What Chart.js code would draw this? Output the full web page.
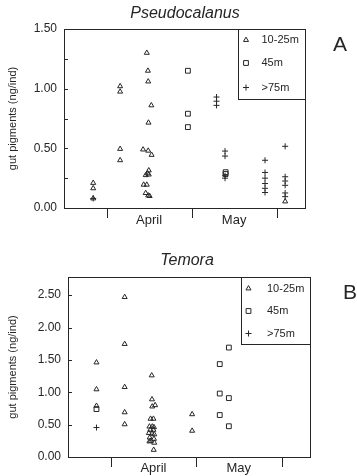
<!DOCTYPE html>
<html>
<head>
<meta charset="utf-8">
<script src="https://cdn.jsdelivr.net/npm/chart.js@4.4.1/dist/chart.umd.min.js"></script>
<style>
    html, body { margin: 0; padding: 0; background: #fff; }
    .panel { position: absolute; left: 0; width: 357px; }
    #panelA { top: 0; height: 236px; }
    #panelB { top: 236px; height: 240px; }
</style>
</head>
<body>
<div class="panel" id="panelA"><canvas id="chartA" width="357" height="236"></canvas></div>
<div class="panel" id="panelB"><canvas id="chartB" width="357" height="240"></canvas></div>
<script>
// depth classes (legend)
const depthLabels = ['10-25m', '45m', '>75m'];

// x axis: days since 1 April
const monthLabels = ['April', 'May'];
const monthCenters = [15, 45];
const monthBounds = [0, 30, 60];

// y axis ticks
const yTicksA = [0, 0.5, 1.0, 1.5];
const yTicksB = [0, 0.5, 1.0, 1.5, 2.0, 2.5];

// Pseudocalanus - [day, gut pigments]
const pseudoShallow = [
    [-4.7, 0.21], [-4.7, 0.165], [-4.7, 0.08],
    [4.8, 1.02], [4.8, 0.975], [4.8, 0.495], [4.8, 0.40],
    [14.2, 1.30], [14.6, 1.15], [14.7, 1.06], [15.8, 0.86], [14.8, 0.715],
    [12.9, 0.49], [14.7, 0.48], [15.9, 0.445],
    [14.9, 0.315], [14.5, 0.29], [13.8, 0.275], [14.9, 0.28],
    [13.1, 0.195], [14.2, 0.195], [13.8, 0.125], [14.7, 0.105], [15.2, 0.10],
    [63.0, 0.055]
];
const pseudoMid = [
    [28.7, 1.15], [28.7, 0.79], [28.7, 0.678], [42.0, 0.30], [42.0, 0.285]
];
const pseudoDeep = [
    [-4.7, 0.08],
    [38.8, 0.93], [38.8, 0.895], [38.8, 0.86],
    [41.8, 0.477], [41.8, 0.435], [41.8, 0.27], [41.8, 0.25],
    [55.9, 0.40], [55.9, 0.298], [55.9, 0.25], [55.9, 0.205], [55.9, 0.165], [55.9, 0.13],
    [63.0, 0.517], [63.0, 0.262], [63.0, 0.226], [63.0, 0.19], [63.0, 0.126], [63.0, 0.095]
];

// Temora - [day, gut pigments]
const temoraShallow = [
    [-5.0, 1.46], [-5.0, 1.045], [-5.0, 0.79],
    [4.9, 2.47], [4.9, 1.745], [4.9, 1.08], [4.9, 0.69], [4.9, 0.505],
    [14.4, 1.26], [14.5, 0.89], [14.6, 0.78], [15.6, 0.80],
    [14.0, 0.59], [15.0, 0.59],
    [13.6, 0.47], [14.6, 0.47], [15.2, 0.46], [13.9, 0.42], [15.0, 0.42],
    [13.4, 0.37], [14.5, 0.36], [15.3, 0.35], [13.7, 0.30], [15.2, 0.28],
    [14.1, 0.25], [13.6, 0.24], [15.3, 0.22], [15.1, 0.11],
    [28.6, 0.66], [28.6, 0.405]
];
const temoraMid = [
    [-5.0, 0.74],
    [38.3, 1.435], [38.3, 0.98], [38.3, 0.648],
    [41.5, 1.69], [41.5, 0.91], [41.5, 0.475]
];
const temoraDeep = [
    [-5.0, 0.455]
];

const ink = '#262626';
const fontFam = "'Liberation Sans', Arial, sans-serif";
const markers = [
    { pointStyle: 'triangle', radius: 2.9 },
    { pointStyle: 'rect', radius: 3.4 },
    { pointStyle: 'cross', radius: 3 }
];

function toXY(arr) { return arr.map(p => ({ x: p[0], y: p[1] })); }

function makeDatasets(series) {
    return series.map((s, i) => ({
        label: depthLabels[i],
        data: toXY(s),
        pointStyle: markers[i].pointStyle,
        pointRadius: markers[i].radius,
        pointBorderWidth: 1,
        pointBorderColor: ink,
        pointBackgroundColor: 'rgba(0,0,0,0)',
        showLine: false
    }));
}

// frame, inward ticks, month ticks, legend box, title, panel letter
const decorPlugin = {
    id: 'decor',
    afterDraw(chart, args, o) {
        const { ctx, chartArea: a, scales: { x, y } } = chart;
        ctx.save();
        ctx.strokeStyle = ink;
        ctx.lineWidth = 1;
        ctx.strokeRect(a.left + 0.5, a.top + 0.5, a.right - a.left, a.bottom - a.top);

        // inward y ticks
        ctx.beginPath();
        for (let v = o.yStep; v < y.max - 1e-6; v += o.yStep) {
            const py = Math.round(y.getPixelForValue(v)) + 0.5;
            ctx.moveTo(a.left, py);
            ctx.lineTo(a.left + 4, py);
        }
        // month boundaries below axis
        monthBounds.forEach(d => {
            const px = Math.round(x.getPixelForValue(d)) + 0.5;
            ctx.moveTo(px, a.bottom);
            ctx.lineTo(px, a.bottom + 10);
        });
        ctx.stroke();

        // legend box
        const lx = o.legendLeft;
        ctx.strokeRect(lx + 0.5, a.top + 0.5, a.right - lx, o.legendBottom - a.top);
        ctx.font = '11px ' + fontFam;
        ctx.fillStyle = ink;
        ctx.textBaseline = 'middle';
        ctx.textAlign = 'left';
        depthLabels.forEach((lab, i) => {
            const ry = a.top + o.rows[i];
            ctx.save();
            ctx.fillStyle = 'rgba(0,0,0,0)';
            ctx.strokeStyle = ink;
            Chart.helpers.drawPoint(ctx, {
                pointStyle: markers[i].pointStyle, radius: markers[i].radius,
                rotation: 0, borderWidth: 1
            }, lx + o.markerDX, ry);
            ctx.restore();
            ctx.fillText(lab, lx + o.textDX, ry);
        });

        // title + letter
        ctx.textAlign = 'center';
        ctx.font = 'italic 16px ' + fontFam;
        ctx.fillText(o.title, o.titleX, o.titleY);
        ctx.font = '21px ' + fontFam;
        ctx.fillText(o.letter, o.letterX, o.letterY);
        ctx.restore();
    }
};

function makeChart(id, series, yTicks, yMax, cfg) {
    return new Chart(document.getElementById(id), {
        type: 'scatter',
        data: { datasets: makeDatasets(series) },
        plugins: [decorPlugin],
        options: {
            responsive: false,
            animation: false,
            layout: { padding: { top: cfg.top, right: cfg.right, left: 0, bottom: 0 } },
            scales: {
                x: {
                    type: 'linear', min: -15, max: 70,
                    grid: { display: false, drawTicks: false },
                    border: { display: false },
                    afterBuildTicks: s => { s.ticks = monthCenters.map(v => ({ value: v })); },
                    afterFit: s => { s.height = cfg.xHeight; },
                    ticks: {
                        callback: (v, i) => monthLabels[i],
                        color: ink, padding: cfg.xPad, maxRotation: 0,
                        font: { family: fontFam, size: 13 }
                    }
                },
                y: {
                    min: 0, max: yMax,
                    grid: { display: false, drawTicks: false },
                    border: { display: false },
                    afterBuildTicks: s => { s.ticks = yTicks.map(v => ({ value: v })); },
                    afterFit: s => { s.width = cfg.yWidth; },
                    ticks: {
                        callback: v => v.toFixed(2),
                        color: ink, padding: 7,
                        font: { family: fontFam, size: 12 }
                    },
                    title: {
                        display: true, text: 'gut pigments (ng/ind)', color: ink,
                        padding: { top: 6, bottom: 0 },
                        font: { family: fontFam, size: 11 }
                    }
                }
            },
            plugins: {
                legend: { display: false },
                tooltip: { enabled: false },
                decor: cfg.decor
            }
        }
    });
}

makeChart('chartA', [pseudoShallow, pseudoMid, pseudoDeep], yTicksA, 1.5, {
    top: 29, right: 52, yWidth: 64, xHeight: 28, xPad: 5,
    decor: {
        yStep: 0.25, legendLeft: 238, legendBottom: 99, rows: [11, 34, 58.5],
        markerDX: 8, textDX: 23.5,
        title: 'Pseudocalanus', titleX: 185, titleY: 14,
        letter: 'A', letterX: 340, letterY: 45
    }
});

makeChart('chartB', [temoraShallow, temoraMid, temoraDeep], yTicksB, 2.78, {
    top: 41, right: 47, yWidth: 68, xHeight: 19, xPad: 4,
    decor: {
        yStep: 0.5, legendLeft: 241, legendBottom: 108, rows: [11.5, 34, 56.5],
        markerDX: 7.5, textDX: 26,
        title: 'Temora', titleX: 187, titleY: 25,
        letter: 'B', letterX: 350, letterY: 57
    }
});
</script>
</body>
</html>
